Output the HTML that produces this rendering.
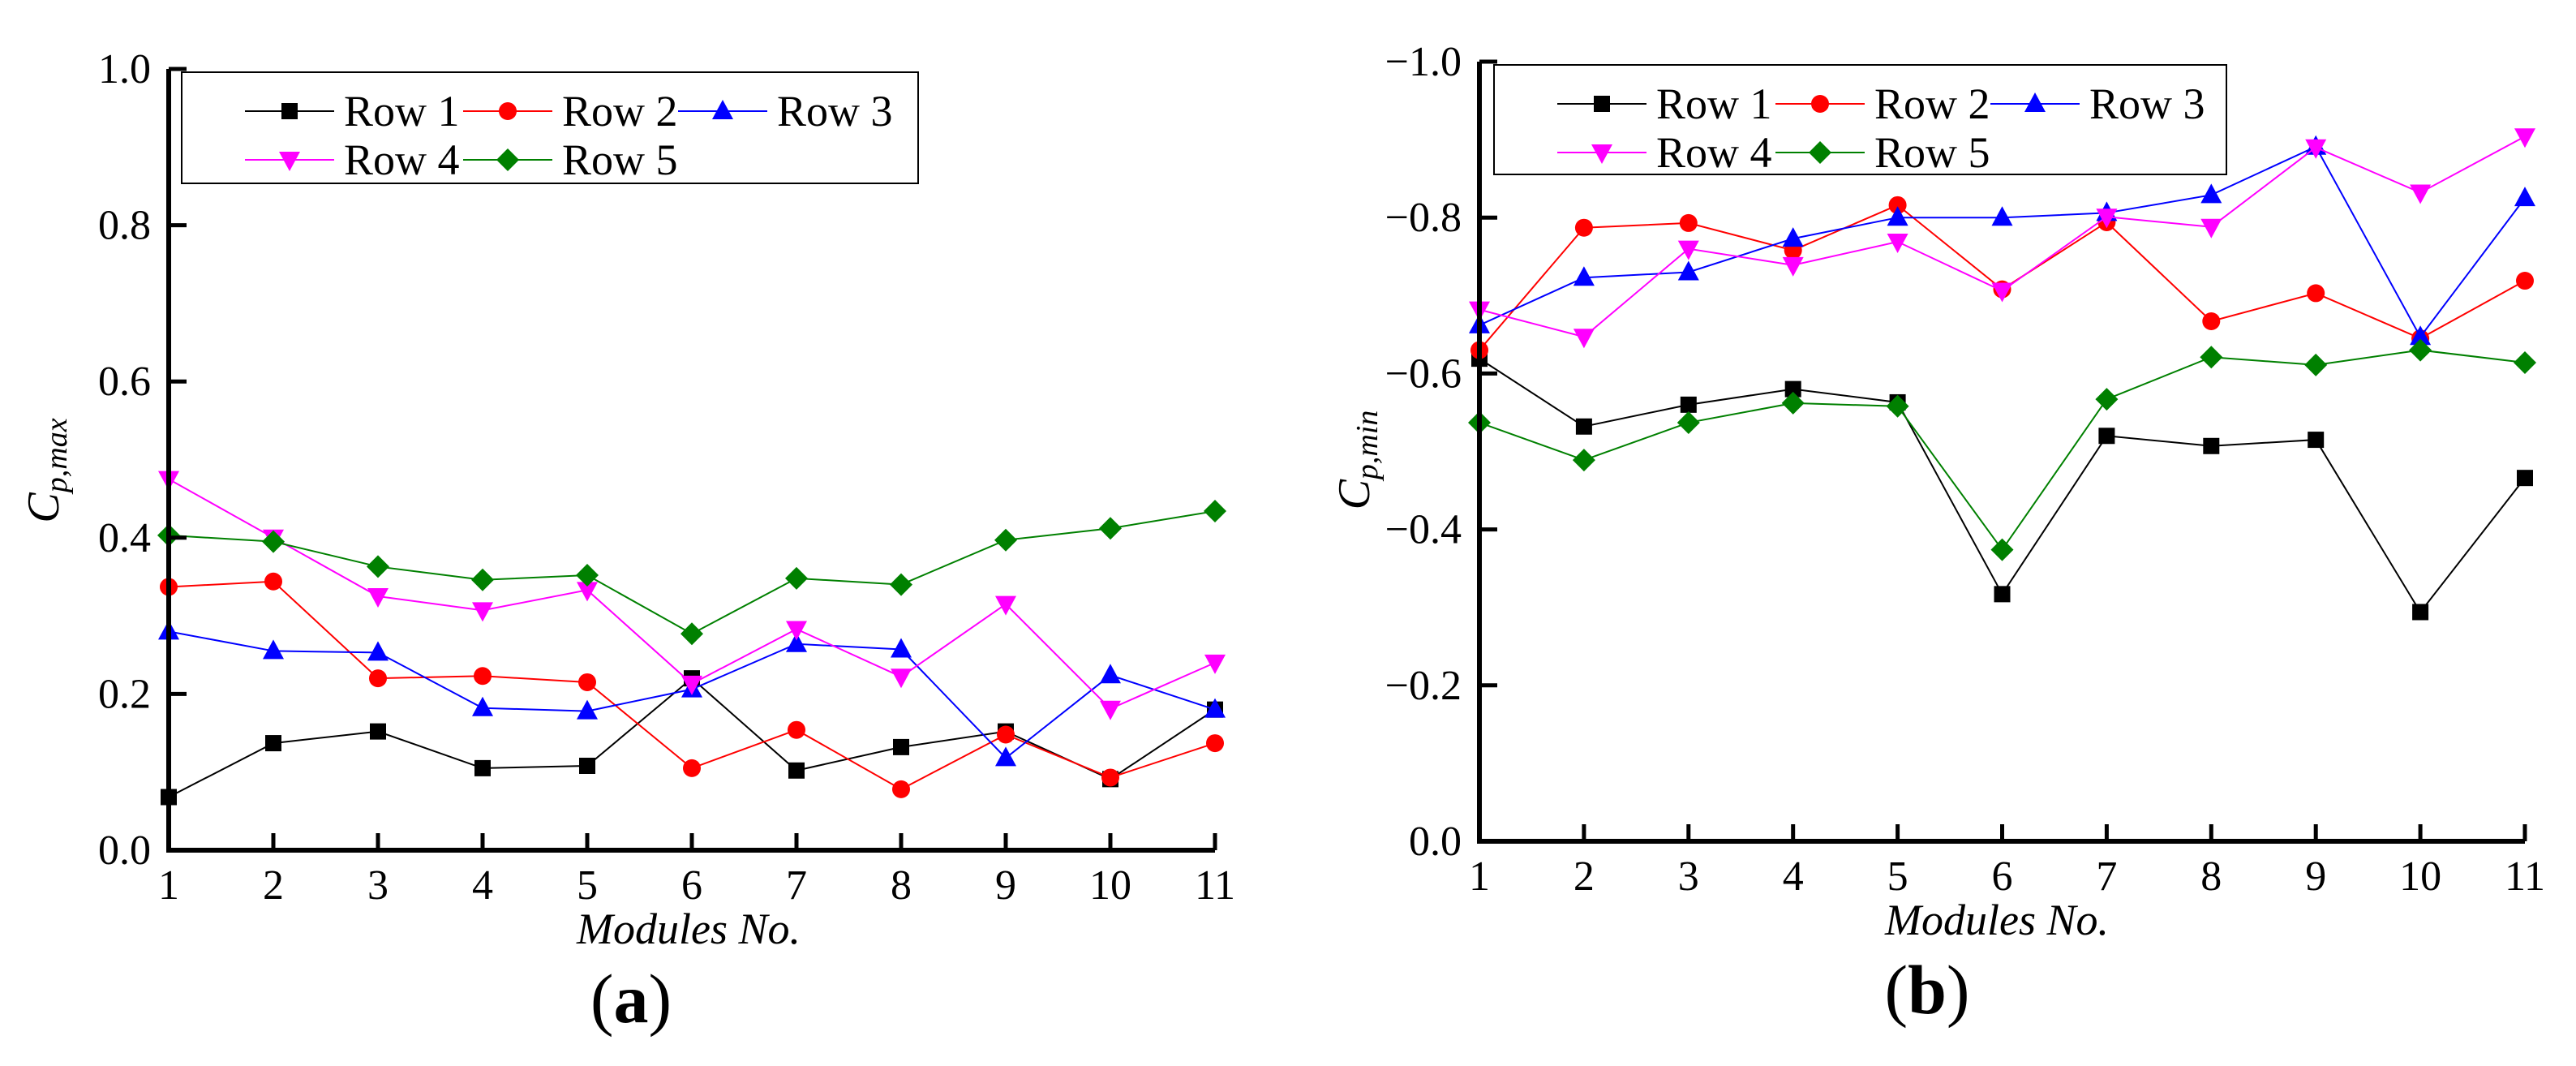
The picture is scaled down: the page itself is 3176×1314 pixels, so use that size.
<!DOCTYPE html>
<html><head><meta charset="utf-8">
<style>
html,body{margin:0;padding:0;background:#fff;}
svg{display:block;}
text{font-family:"Liberation Serif","DejaVu Serif",serif;}
</style></head>
<body>
<svg id="chart" width="3176" height="1314" viewBox="0 0 3176 1314" xmlns="http://www.w3.org/2000/svg" font-family="'Liberation Serif', 'DejaVu Serif', serif"></svg>
<script>
const modules = [1,2,3,4,5,6,7,8,9,10,11];
const seriesNames = ["Row 1","Row 2","Row 3","Row 4","Row 5"];
const seriesColors = ["#000000","#ff0000","#0000ff","#ff00ff","#008000"];
const seriesMarkers = ["square","circle","triangle","triangleDown","diamond"];
// Panel (a) Cp,max
const aRow1 = [0.068,0.137,0.152,0.105,0.108,0.220,0.102,0.132,0.152,0.091,0.180];
const aRow2 = [0.337,0.344,0.220,0.223,0.215,0.105,0.154,0.078,0.148,0.093,0.137];
const aRow3 = [0.280,0.255,0.253,0.182,0.178,0.206,0.264,0.257,0.118,0.224,0.180];
const aRow4 = [0.475,0.400,0.325,0.307,0.333,0.213,0.283,0.222,0.315,0.181,0.240];
const aRow5 = [0.403,0.395,0.363,0.346,0.352,0.277,0.348,0.340,0.397,0.412,0.434];
const aTicks = ["0.0","0.2","0.4","0.6","0.8","1.0"];
const aTickVals = [0,0.2,0.4,0.6,0.8,1.0];
// Panel (b) Cp,min
const bRow1 = [-0.619,-0.532,-0.560,-0.580,-0.563,-0.317,-0.520,-0.507,-0.515,-0.294,-0.466];
const bRow2 = [-0.630,-0.787,-0.793,-0.758,-0.816,-0.708,-0.794,-0.667,-0.703,-0.645,-0.719];
const bRow3 = [-0.662,-0.723,-0.730,-0.773,-0.800,-0.800,-0.806,-0.829,-0.891,-0.647,-0.825];
const bRow4 = [-0.682,-0.647,-0.760,-0.739,-0.769,-0.706,-0.801,-0.788,-0.890,-0.832,-0.904];
const bRow5 = [-0.537,-0.489,-0.537,-0.562,-0.558,-0.374,-0.567,-0.621,-0.611,-0.630,-0.614];
const bTicks = ["0.0","\u22120.2","\u22120.4","\u22120.6","\u22120.8","\u22121.0"];
const bTickVals = [0,-0.2,-0.4,-0.6,-0.8,-1.0];

const NS="http://www.w3.org/2000/svg";
const FONT="'Liberation Serif', 'DejaVu Serif', serif";
const svg=document.getElementById('chart');
function mk(tag,attrs,parent){const e=document.createElementNS(NS,tag);for(const k in attrs)e.setAttribute(k,attrs[k]);if(tag==='text')e.setAttribute('font-family',FONT);(parent||svg).appendChild(e);return e;}

function marker(g,type,cx,cy,color){
  let e;
  if(type==="square"){e=mk('rect',{x:cx-10,y:cy-10,width:20,height:20,fill:color},g);}
  else if(type==="circle"){e=mk('circle',{cx:cx,cy:cy,r:11,fill:color},g);}
  else if(type==="triangle"){e=mk('polygon',{points:`${cx},${cy-14} ${cx+13},${cy+10} ${cx-13},${cy+10}`,fill:color},g);}
  else if(type==="triangleDown"){e=mk('polygon',{points:`${cx-13},${cy-10} ${cx+13},${cy-10} ${cx},${cy+14}`,fill:color},g);}
  else {e=mk('polygon',{points:`${cx},${cy-14} ${cx+14},${cy} ${cx},${cy+14} ${cx-14},${cy}`,fill:color},g);}
  
  
  return e;
}

function panel(opt){
  const g=mk('g',{});
  
  
  const x0=opt.left, x1=opt.right, yb=opt.bottom, yt=opt.top;
  const xs=v=>x0+(v-1)*(x1-x0)/10;
  const ys=v=>yb-(v/opt.vmax)*(yb-yt);
  opt.series.forEach((data,si)=>{
    const sg=mk('g',{},g);
    
    
    const pts=data.map((v,i)=>xs(modules[i])+','+ys(v)).join(' ');
    const pl=mk('polyline',{points:pts,fill:'none',stroke:seriesColors[si],'stroke-width':2},sg);
    
    
    data.forEach((v,i)=>marker(sg,seriesMarkers[si],xs(modules[i]),ys(v),seriesColors[si]));
  });
  const ax=mk('path',{d:`M${x0},${yt} L${x0},${yb} L${x1},${yb}`,fill:'none',stroke:'#000','stroke-width':6,'stroke-linejoin':'miter'},g);
  
  
  opt.tickVals.forEach((v,i)=>{
    const y=ys(v);
    mk('line',{x1:x0,y1:y,x2:x0+22,y2:y,stroke:'#000','stroke-width':5},g);
    const t=mk('text',{x:x0-22,y:y+17,'text-anchor':'end','font-size':52},g);
    t.textContent=opt.ticks[i];
    
    
  });
  modules.forEach(m=>{
    const x=xs(m);
    mk('line',{x1:x,y1:yb,x2:x,y2:yb-21,stroke:'#000','stroke-width':5},g);
    const t=mk('text',{x:x,y:yb+60,'text-anchor':'middle','font-size':52},g);
    t.textContent=String(m);
    
    
  });
  const xt=mk('text',{x:opt.xTitleX,y:yb+115,'text-anchor':'middle','font-size':54,'font-style':'italic'},g);
  xt.textContent='Modules No.';
  
  
  const yt2=mk('text',{transform:`translate(${x0-136},${opt.yTitleY}) rotate(-90)`,'text-anchor':'middle','font-size':56,'font-style':'italic'},g);
  
  
  const c=mk('tspan',{},yt2);c.textContent='C';
  const s=mk('tspan',{'font-size':38,dy:10},yt2);s.textContent=opt.sub;
  const pl=mk('text',{x:opt.labelX,y:opt.labelY,'text-anchor':'middle','font-size':86},g);
  
  
  const p1=mk('tspan',{},pl);p1.textContent='(';
  const p2=mk('tspan',{'font-weight':'bold'},pl);p2.textContent=opt.label;
  const p3=mk('tspan',{},pl);p3.textContent=')';
  const L=opt.legend;
  const lg=mk('g',{},g);
  
  
  mk('rect',{x:L.x,y:L.y,width:L.w,height:L.h,fill:'#fff',stroke:'#000','stroke-width':2},lg);
  const colX=[L.x+78,L.x+347,L.x+612];
  const rowY=[L.y+48,L.y+108];
  seriesNames.forEach((n,i)=>{
    const cx=colX[i%3], cy=rowY[Math.floor(i/3)];
    const eg=mk('g',{},lg);
    
    
    mk('line',{x1:cx,y1:cy,x2:cx+110,y2:cy,stroke:seriesColors[i],'stroke-width':2},eg);
    marker(eg,seriesMarkers[i],cx+55,cy,seriesColors[i]);
    const t=mk('text',{x:cx+122,y:cy+18,'font-size':54},eg);
    t.textContent=n;
  });
}

panel({name:'panel-a-cp-max',left:208,right:1498,bottom:1048,top:85,vmax:1.0,
  series:[aRow1,aRow2,aRow3,aRow4,aRow5],ticks:aTicks,tickVals:aTickVals,
  xTitleX:849,yTitleY:580,sub:'p,max',label:'a',labelX:778,labelY:1260,
  legend:{x:224,y:89,w:908,h:137}});
panel({name:'panel-b-cp-min',left:1824,right:3113,bottom:1037,top:76,vmax:-1.0,
  series:[bRow1,bRow2,bRow3,bRow4,bRow5],ticks:bTicks,tickVals:bTickVals,
  xTitleX:2462,yTitleY:567,sub:'p,min',label:'b',labelX:2376,labelY:1249,
  legend:{x:1842,y:80,w:903,h:135}});
</script>
</body></html>
